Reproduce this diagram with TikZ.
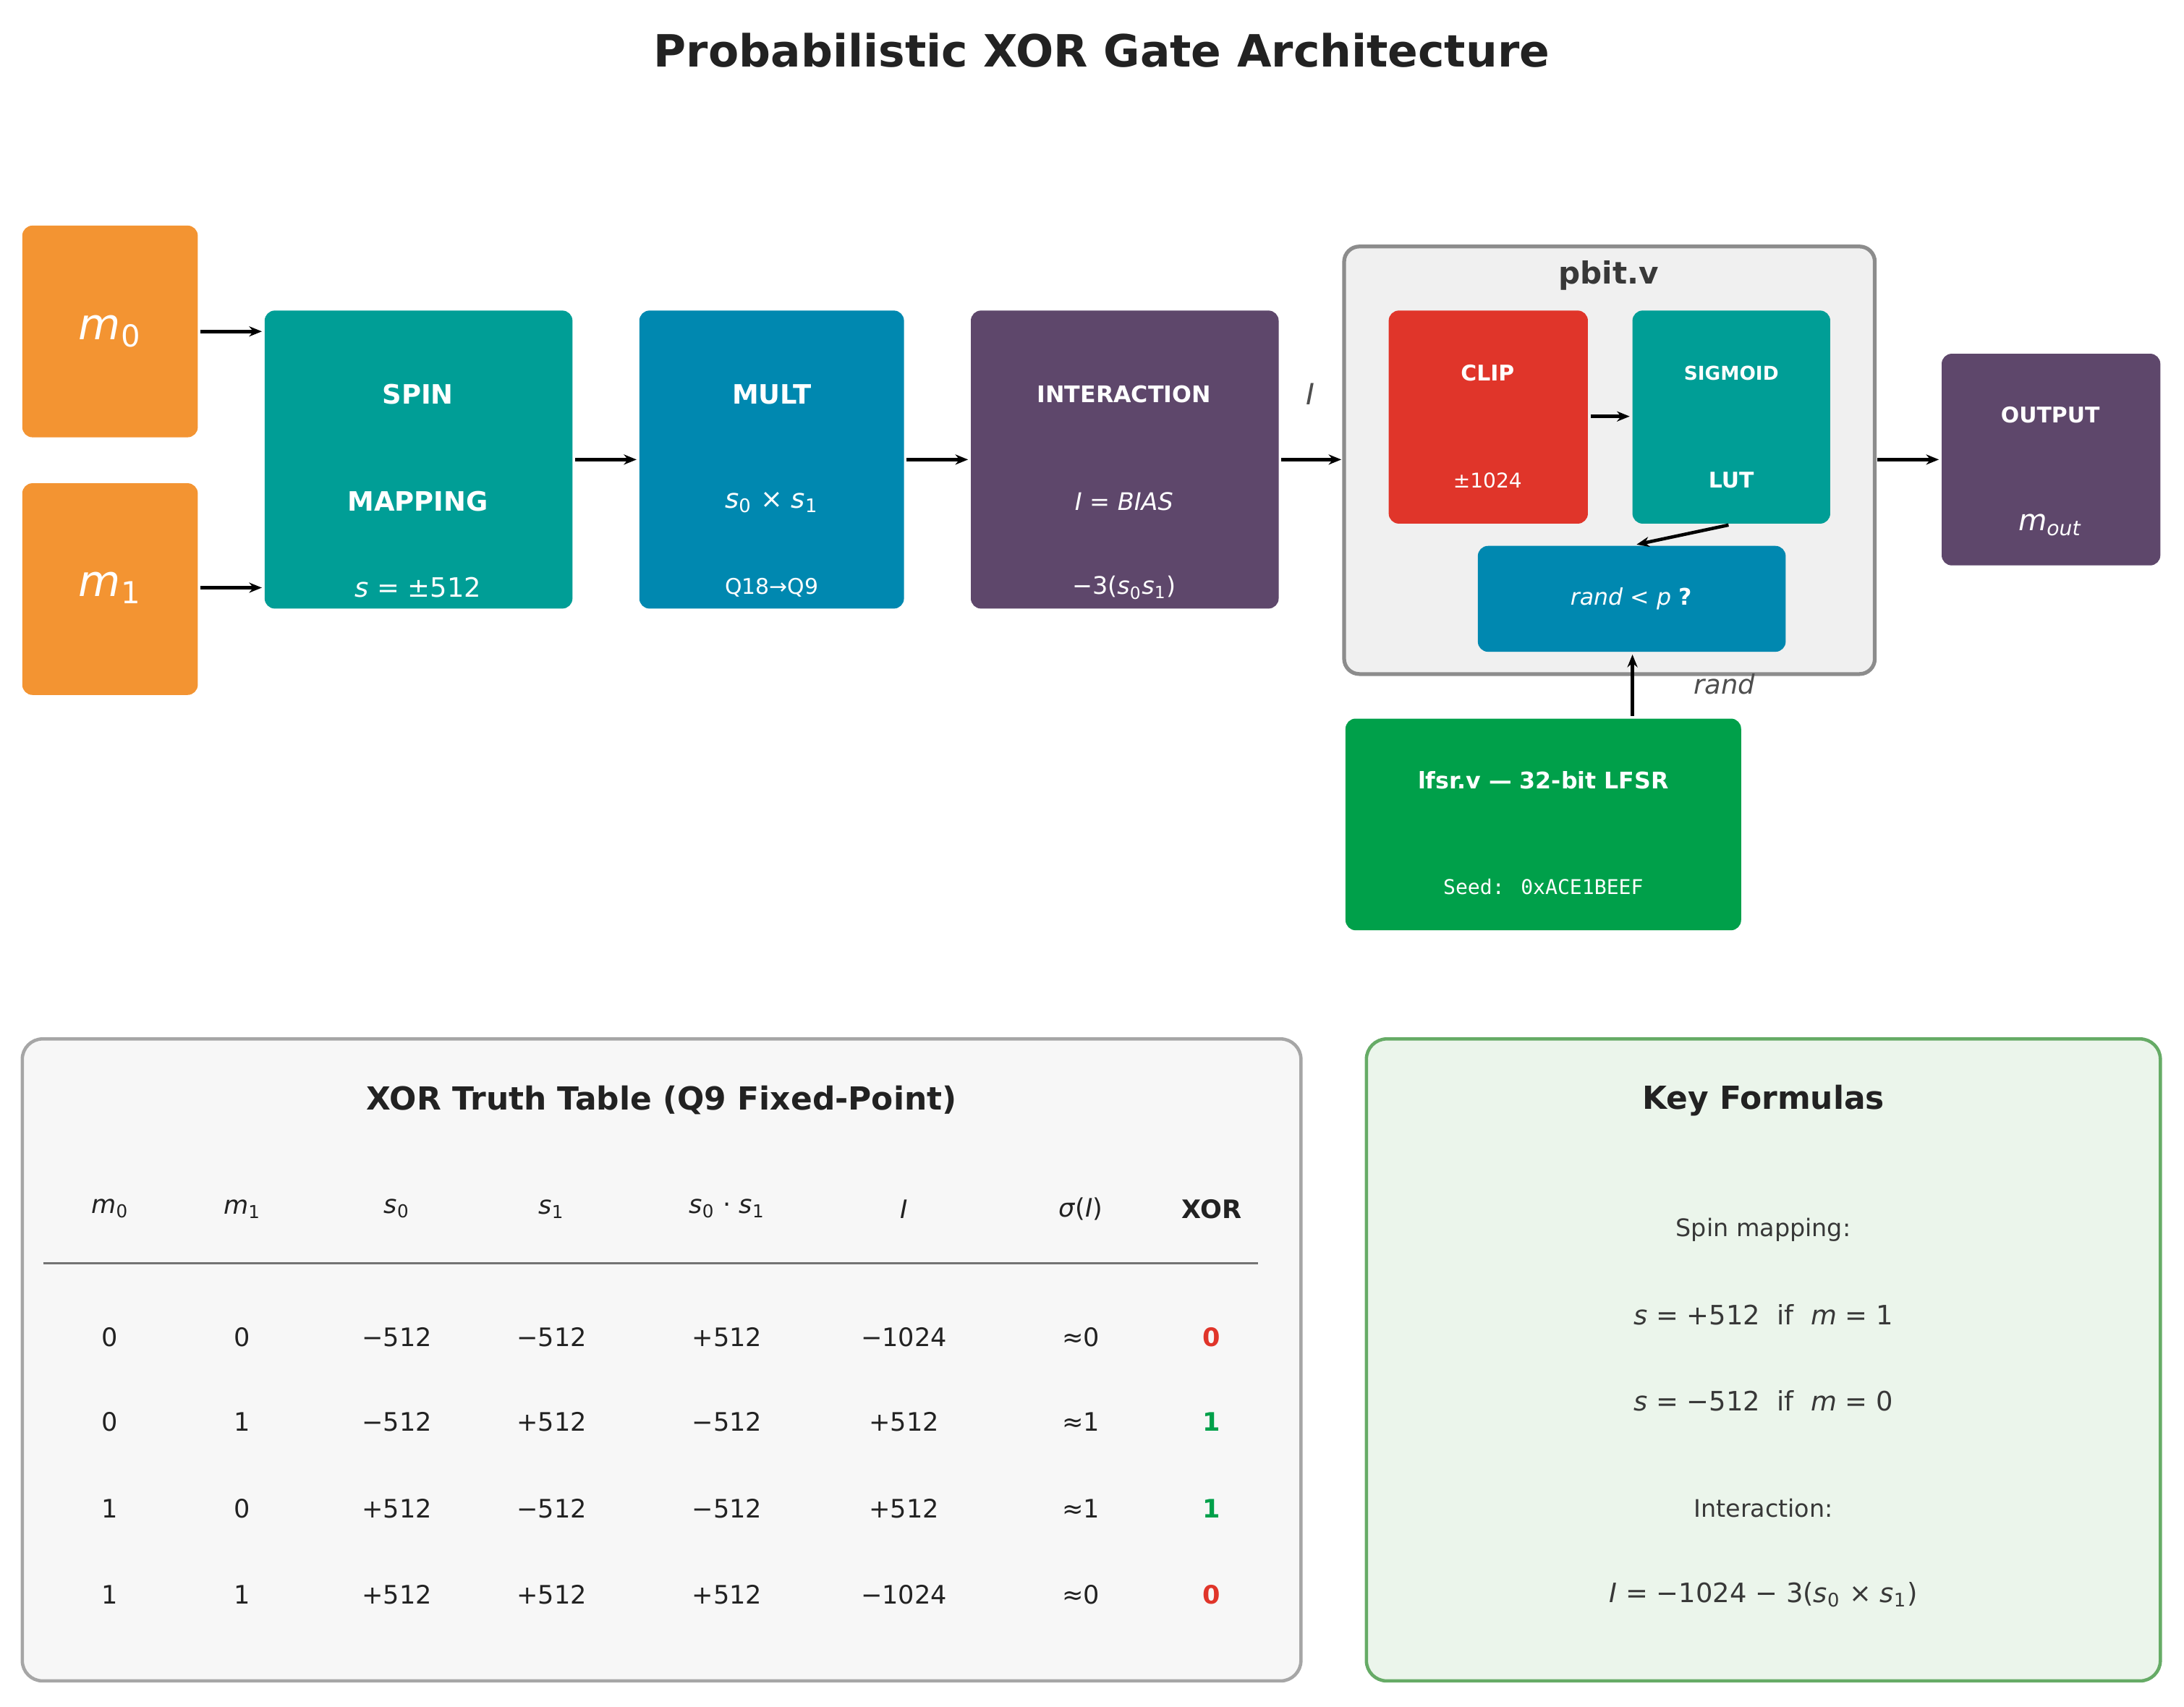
\documentclass[tikz,border=0pt]{standalone}
\usepackage{fontspec}
\setmainfont{DejaVu Sans}
\newfontfamily\monof{DejaVu Sans Mono}
\usetikzlibrary{arrows.meta}
\definecolor{org}{HTML}{F39432}
\definecolor{teal}{HTML}{009E96}
\definecolor{blu}{HTML}{0088B0}
\definecolor{pur}{HTML}{5E476B}
\definecolor{red}{HTML}{E0352A}
\definecolor{grn}{HTML}{00A04A}
\definecolor{txt}{HTML}{222222}
\newcommand{\ii}[1]{\textit{#1}}
\newcommand{\sbs}[1]{\textsubscript{#1}}
\begin{document}
\begin{tikzpicture}[x=0.01925cm,y=-0.01925cm,
 box/.style={rounded corners=4pt,draw=none},
 wt/.style={text=white,font=\fontsize{10.5}{13}\selectfont\bfseries},
 ws/.style={text=white,font=\fontsize{8.5}{11}\selectfont},
 arr/.style={-{Stealth[length=5pt,width=4pt]},line width=1.3pt,black},
 tb/.style={text=txt,font=\fontsize{10}{12}\selectfont},
 fm/.style={text=txt!90,font=\fontsize{10.5}{13}\selectfont}]
\useasboundingbox (0,0) rectangle (1568,1225.6);
\node[text=txt,font=\fontsize{17.5}{22}\selectfont\bfseries] (title) at (791,36) {Probabilistic XOR Gate Architecture};
% boxes
\fill[box,org] (16,162) rectangle (142,314); \node[text=white,font=\fontsize{17}{20}\selectfont] (m0) at (79,238) {\ii{m}\sbs{0}};
\fill[box,org] (16,347) rectangle (142,499); \node[text=white,font=\fontsize{17}{20}\selectfont] (m1) at (79,422) {\ii{m}\sbs{1}};
\fill[box,teal] (190,223) rectangle (411,437);
\node[wt] (sp1) at (300,283) {SPIN}; \node[wt] (sp2) at (300,360) {MAPPING};
\node[text=white,font=\fontsize{10.5}{13}\selectfont] (sp3) at (300,422) {\ii{s} = ±512};
\fill[box,blu] (459,223) rectangle (649,437);
\node[wt] (mu1) at (554,283) {MULT};
\node[text=white,font=\fontsize{10.5}{13}\selectfont] (mu2) at (554,361) {\ii{s}\sbs{0} × \ii{s}\sbs{1}};
\node[ws] (mu3) at (554,422) {Q18→Q9};
\fill[box,pur] (697,223) rectangle (918,437);
\node[text=white,font=\fontsize{9}{11}\selectfont\bfseries] (in1) at (807,283) {INTERACTION};
\node[text=white,font=\fontsize{9.5}{12}\selectfont] (in2) at (807,360) {\ii{I} = \ii{BIAS}};
\node[text=white,font=\fontsize{9.5}{12}\selectfont] (in3) at (807,422) {−3(\ii{s}\sbs{0}\ii{s}\sbs{1})};
% pbit container
\draw[rounded corners=6pt,fill=black!6,draw=black!45,line width=1.5pt] (965,177) rectangle (1346,484);
\node[text=txt!90,font=\fontsize{12}{15}\selectfont\bfseries] (pb) at (1155,198) {pbit.v};
\fill[box,red] (997,223) rectangle (1140,376);
\node[text=white,font=\fontsize{8.5}{11}\selectfont\bfseries] (c1) at (1068,268) {CLIP};
\node[text=white,font=\fontsize{8}{10}\selectfont] (c2) at (1068,345) {±1024};
\fill[box,teal] (1172,223) rectangle (1314,376);
\node[text=white,font=\fontsize{7.5}{10}\selectfont\bfseries] (sg1) at (1243,268) {SIGMOID};
\node[text=white,font=\fontsize{8.5}{11}\selectfont\bfseries] (sg2) at (1243,345) {LUT};
\fill[box,blu] (1061,392) rectangle (1282,468);
\node[text=white,font=\fontsize{9}{11}\selectfont] (rp) at (1171,430) {\ii{rand} < \ii{p} \textbf{?}};
\fill[box,pur] (1394,254) rectangle (1551,406);
\node[text=white,font=\fontsize{8.5}{11}\selectfont\bfseries] (o1) at (1472,298) {OUTPUT};
\node[text=white,font=\fontsize{11.5}{14}\selectfont] (o2) at (1472,377) {\ii{m}\sbs{\ii{out}}};
\fill[box,grn] (966,516) rectangle (1250,668);
\node[text=white,font=\fontsize{9}{11}\selectfont\bfseries] (l1) at (1108,560) {lfsr.v — 32-bit LFSR};
\node[text=white,font=\fontsize{8}{10}\selectfont\monof] (l2) at (1108,637) {Seed: 0xACE1BEEF};
\node[text=txt!80,font=\fontsize{11.5}{14}\selectfont\itshape] (Il) at (941,283) {I};
\node[text=txt!80,font=\fontsize{10.5}{13}\selectfont\itshape] (rl) at (1238,491) {rand};
% arrows
\coordinate (a1) at (144,238); \coordinate (b1) at (188,238);
\coordinate (a2) at (144,422); \coordinate (b2) at (188,422);
\coordinate (a3) at (413,330); \coordinate (b3) at (457,330);
\coordinate (a4) at (651,330); \coordinate (b4) at (695,330);
\coordinate (a5) at (920,330); \coordinate (b5) at (963,330);
\coordinate (a6) at (1142,299); \coordinate (b6) at (1170,299);
\coordinate (a7) at (1241,377); \coordinate (b7) at (1175,391);
\coordinate (a8) at (1172,514); \coordinate (b8) at (1172,470);
\coordinate (a9) at (1348,330); \coordinate (b9) at (1392,330);
\foreach \i in {1,...,9}{\draw[arr] (a\i) -- (b\i);}
% table panel
\draw[rounded corners=8pt,fill=black!3,draw=black!35,line width=1.3pt] (16,746) rectangle (934,1207);
\node[text=txt,font=\fontsize{12.5}{15}\selectfont\bfseries] (tt) at (475,790) {XOR Truth Table (Q9 Fixed-Point)};
\foreach \x/\t in {79/{\ii{m}\sbs{0}},174/{\ii{m}\sbs{1}},285/{\ii{s}\sbs{0}},396/{\ii{s}\sbs{1}},522/{\ii{s}\sbs{0} · \ii{s}\sbs{1}},649/{\ii{I}},776/{\ii{σ}(\ii{I})}}
 \node[tb] at (\x,868) {\t};
\node[tb,font=\fontsize{10}{12}\selectfont\bfseries] (hx) at (870,868) {XOR};
\draw[black!55,line width=1pt] (31,907) -- (903,907);
\foreach \y/\a/\b/\c/\d/\e/\f/\g/\h/\col in {
 960/0/0/−512/−512/+512/−1024/≈0/0/red,
 1021/0/1/−512/+512/−512/+512/≈1/1/grn,
 1083/1/0/+512/−512/−512/+512/≈1/1/grn,
 1145/1/1/+512/+512/+512/−1024/≈0/0/red}{
 \node[tb] at (79,\y) {\a}; \node[tb] at (174,\y) {\b}; \node[tb] at (285,\y) {\c};
 \node[tb] at (396,\y) {\d}; \node[tb] at (522,\y) {\e}; \node[tb] at (649,\y) {\f};
 \node[tb] at (776,\y) {\g};
 \node[text=\col,font=\fontsize{10}{12}\selectfont\bfseries] at (870,\y) {\h};}
% formula panel
\draw[rounded corners=8pt,fill=green!50!black!8!white,draw=green!45!black!60!white,line width=1.3pt] (981,746) rectangle (1551,1207);
\node[text=txt,font=\fontsize{12.5}{15}\selectfont\bfseries] (kf) at (1266,790) {Key Formulas};
\node[fm,font=\fontsize{9.5}{12}\selectfont] (f1) at (1266,883) {Spin mapping:};
\node[fm] (f2) at (1266,944) {\ii{s} = +512 \ if \ \ii{m} = 1};
\node[fm] (f3) at (1266,1006) {\ii{s} = −512 \ if \ \ii{m} = 0};
\node[fm,font=\fontsize{9.5}{12}\selectfont] (f4) at (1266,1083) {Interaction:};
\node[fm] (f5) at (1266,1145) {\ii{I} = −1024 − 3(\ii{s}\sbs{0} × \ii{s}\sbs{1})};
\end{tikzpicture}
\end{document}
